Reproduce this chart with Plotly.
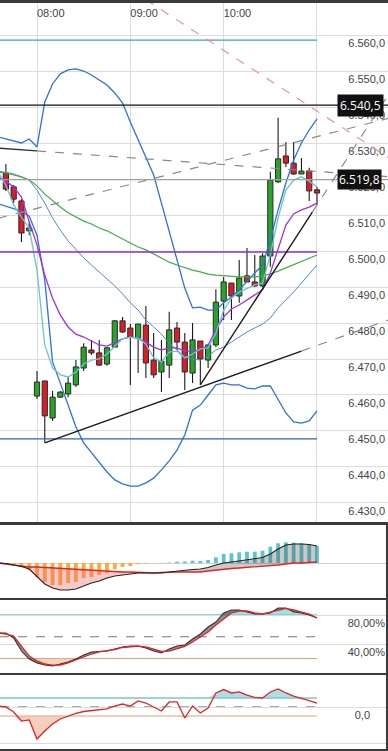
import pandas as pd
import plotly.graph_objects as go

DAY = "2020-01-02 "

# ---------------- data ----------------
line_times = ["07:35", "07:40", "07:45", "07:50", "07:55", "08:00", "08:05", "08:10", "08:15", "08:20",
              "08:25", "08:30", "08:35", "08:40", "08:45", "08:50", "08:55", "09:00", "09:05", "09:10",
              "09:15", "09:20", "09:25", "09:30", "09:35", "09:40", "09:45", "09:50", "09:55", "10:00",
              "10:05", "10:10", "10:15", "10:20", "10:25", "10:30", "10:35", "10:40", "10:45", "10:50",
              "10:55", "11:00"]
candle_times = line_times[1:]

opens = [6521.7, 6517.8, 6513.9, 6505.6, 6459.7, 6463.9, 6453.6, 6459.4, 6460.3, 6462.8, 6467.5, 6472.5,
         6471.7, 6468.6, 6473.3, 6480.6, 6478.6, 6475.8, 6479.4, 6469.7, 6466.4, 6468.3, 6478.6, 6474.7,
         6466.1, 6475.0, 6469.7, 6473.9, 6486.1, 6491.1, 6487.5, 6493.1, 6491.4, 6490.3, 6498.6, 6519.2,
         6526.4, 6524.4, 6521.4, 6522.2, 6517.0]
highs = [6524.2, 6518.3, 6514.4, 6508.1, 6466.7, 6463.9, 6461.1, 6461.1, 6465.0, 6469.7, 6474.4, 6475.3,
         6475.3, 6473.3, 6480.8, 6481.7, 6479.7, 6479.7, 6484.7, 6477.2, 6475.3, 6483.1, 6480.3, 6477.2,
         6480.0, 6475.0, 6474.0, 6489.4, 6492.8, 6491.1, 6497.5, 6500.8, 6498.9, 6499.4, 6522.0, 6537.0,
         6530.3, 6530.3, 6525.8, 6523.1, 6517.8]
lows = [6516.7, 6513.3, 6502.5, 6504.4, 6458.9, 6446.7, 6452.8, 6459.2, 6459.4, 6462.2, 6466.7, 6471.1,
        6468.1, 6468.1, 6473.3, 6477.2, 6462.8, 6466.1, 6464.7, 6464.7, 6460.8, 6464.7, 6472.5, 6461.4,
        6463.3, 6462.8, 6467.5, 6473.3, 6480.8, 6480.8, 6485.6, 6491.4, 6490.0, 6490.0, 6495.6, 6518.9,
        6523.3, 6521.1, 6521.4, 6513.9, 6512.8]
closes = [6517.2, 6514.4, 6505.0, 6506.4, 6463.6, 6454.2, 6459.4, 6460.8, 6463.3, 6467.8, 6473.3, 6471.7,
          6468.3, 6473.1, 6480.6, 6477.5, 6476.1, 6479.7, 6468.9, 6465.6, 6469.4, 6478.1, 6474.7, 6466.4,
          6475.3, 6470.0, 6473.9, 6485.8, 6491.4, 6487.5, 6492.5, 6491.4, 6490.3, 6498.6, 6519.7, 6525.6,
          6524.4, 6521.4, 6522.2, 6516.7, 6516.1]

bb_upper = [6531.7, 6531.1, 6530.6, 6530.0, 6531.1, 6528.9, 6541.4, 6546.4, 6549.2, 6550.3, 6550.6, 6550.0,
            6548.9, 6547.5, 6546.1, 6543.9, 6541.1, 6535.8, 6530.8, 6526.1, 6521.1, 6513.3, 6505.3, 6497.5,
            6489.7, 6484.2, 6484.4, 6483.6, 6483.6, 6485.6, 6487.2, 6489.2, 6491.7, 6493.9, 6496.1, 6503.1,
            6511.4, 6518.9, 6525.3, 6530.0, 6533.6, 6536.7]
bb_middle = [6522.2, 6521.9, 6521.4, 6520.6, 6519.7, 6516.9, 6513.3, 6509.2, 6505.8, 6502.8, 6500.3, 6498.1,
             6496.1, 6494.2, 6492.2, 6490.3, 6488.1, 6485.6, 6483.6, 6480.8, 6478.9, 6476.9, 6474.4, 6472.5,
             6470.6, 6470.0, 6469.7, 6470.8, 6472.5, 6473.3, 6474.7, 6476.1, 6477.5, 6478.6, 6479.7, 6481.4,
             6484.2, 6486.4, 6488.6, 6491.1, 6493.6, 6496.1]
bb_lower = [6513.1, 6512.5, 6511.9, 6511.1, 6509.7, 6504.4, 6491.9, 6469.2, 6463.3, 6457.2, 6451.1, 6446.7,
            6443.9, 6441.1, 6438.6, 6436.4, 6435.3, 6434.7, 6434.7, 6435.6, 6436.9, 6439.2, 6441.7, 6444.7,
            6448.9, 6455.8, 6457.2, 6460.0, 6462.8, 6463.3, 6462.8, 6462.8, 6461.9, 6461.7, 6462.5, 6462.5,
            6458.6, 6455.0, 6452.5, 6452.2, 6452.8, 6455.6]
ma_green = [6521.9, 6521.7, 6521.1, 6520.6, 6519.7, 6518.1, 6515.8, 6513.9, 6512.2, 6510.6, 6509.4, 6508.3,
            6507.5, 6506.4, 6505.6, 6504.4, 6503.3, 6502.2, 6501.1, 6500.3, 6499.2, 6498.1, 6496.9, 6496.1,
            6495.3, 6494.7, 6494.2, 6493.6, 6493.3, 6493.1, 6492.8, 6492.8, 6492.8, 6492.8, 6493.1, 6493.6,
            6494.4, 6495.3, 6496.4, 6497.2, 6498.1, 6498.9]
ma_purple = [6520.6, 6519.4, 6517.8, 6515.0, 6508.1, 6501.7, 6493.3, 6486.9, 6482.2, 6478.9, 6476.9, 6476.1,
             6475.0, 6473.9, 6473.6, 6474.7, 6475.6, 6476.1, 6475.8, 6474.7, 6473.3, 6472.5, 6473.1, 6473.1,
             6472.2, 6472.2, 6472.5, 6473.9, 6478.1, 6481.7, 6483.9, 6485.0, 6486.4, 6487.8, 6489.2, 6493.9,
             6500.8, 6507.2, 6510.3, 6511.4, 6512.2, 6513.3]
ma_cyan = [6521.9, 6518.3, 6512.8, 6509.4, 6506.4, 6494.7, 6473.9, 6467.5, 6465.6, 6465.0, 6466.4, 6468.6,
           6469.7, 6470.0, 6471.4, 6473.6, 6475.6, 6476.1, 6475.8, 6474.2, 6470.3, 6469.2, 6471.9, 6472.2,
           6470.3, 6471.4, 6472.8, 6473.1, 6477.2, 6483.6, 6486.9, 6488.6, 6489.7, 6490.6, 6491.1, 6498.9,
           6509.2, 6516.9, 6519.7, 6520.6, 6519.4, 6517.8]

level_teal = 6558.6
level_black = 6540.5
level_gray = 6519.8
level_purple = 6499.7
level_blue = 6447.8

# trendlines: two anchor points (time, price)
trend_low = [("08:05", 6446.7), ("10:50", 6472.2)]
trend_steep = [("09:45", 6462.8), ("10:57", 6510.8)]
trend_desc = [("08:00", 6527.8), ("11:00", 6522.1)]
trend_asc = [("07:35", 6509.1), ("11:50", 6537.3)]
trend_red = [("09:10", 6569.8), ("11:50", 6524.8)]

macd = [0, -0.5, -2, -3.5, -6, -14, -21, -25, -27, -27, -26, -23, -20, -18, -15, -13, -12, -10.5, -10, -10,
        -10, -10, -9, -8, -7, -6.5, -6, -4.5, -2, 0, 1, 2, 3, 4, 5.5, 9, 14, 18, 19, 19, 18.5, 17]
macd_signal = [0, -1, -2, -3.5, -4, -4, -4.5, -5, -5.5, -6, -6.5, -7, -7.5, -8, -8.5, -9, -9, -9, -9.5, -10,
               -10, -9.5, -9, -9, -9, -9, -9, -8, -7, -6, -5.5, -5, -4.5, -4, -3.5, -3, -2, -1, 0, 0, 0.5, 1]
macd_hist = [0, 0, -1, -4, -7, -14, -19, -22, -22, -20, -19, -15, -14, -12, -10, -6, -4, -3, -1, -0.5, -0.3,
             -0.2, 0.5, 1.3, 1.5, 2.3, 2, 3, 5.7, 9, 9.7, 10.7, 11.3, 11.3, 12.3, 16.3, 19.7, 20.7, 20.3,
             19.7, 18.7, 17]

stoch_k = [55.2, 55.2, 48.3, 30.3, 19.3, 13.8, 11.0, 9.7, 12.4, 15.2, 19.3, 24.8, 29.0, 29.7, 30.3, 33.1,
           35.9, 37.2, 37.2, 34.5, 30.3, 27.6, 33.1, 37.2, 38.6, 46.9, 53.8, 63.4, 70.3, 82.8, 86.9, 86.9,
           84.1, 81.4, 81.4, 82.8, 89.7, 89.7, 84.1, 82.8, 80.0, 75.9]
stoch_d = [55.2, 53.8, 51.0, 37.2, 23.4, 16.6, 12.4, 11.0, 11.0, 13.8, 17.9, 22.1, 26.2, 29.0, 30.3, 32.4,
           35.2, 36.6, 37.2, 35.9, 33.1, 29.7, 30.3, 33.8, 36.6, 42.8, 49.7, 56.6, 66.2, 74.5, 82.8, 85.5,
           85.5, 82.8, 81.4, 84.1, 86.9, 89.0, 86.9, 84.1, 81.4, 75.9]

osc = [11, 0, -56, -156, -144, -356, -267, -189, -133, -100, -72, -50, -39, -33, -22, 11, 33, 11, 67, 44, 0,
       -44, 56, 56, -122, 11, -67, -11, 156, 194, 156, 167, 133, 106, 100, 167, 200, 156, 122, 100, 72, 44]

# ---------------- helpers ----------------
W, H = 388, 751
PX_PER_MIN = 93.33 / 60.0
T = lambda s: pd.Timestamp(DAY + s)
x0 = T("08:00") - pd.Timedelta(minutes=37 / PX_PER_MIN)
x1 = T("08:00") + pd.Timedelta(minutes=(W - 37) / PX_PER_MIN)
MS_PER_PX = 60000 / PX_PER_MIN

xl = [T(s) for s in line_times]
xc = [T(s) for s in candle_times]


def pp(px):  # pixel row -> paper y
    return (H - px) / H


def line_at(p, to):
    (ta, va), (tb, vb) = p
    a, b = T(ta), T(tb)
    slope = (vb - va) / (b - a).total_seconds()
    e = T(to)
    return e, va + slope * (e - a).total_seconds()


fig = go.Figure()

# ---------------- main: candles ----------------
wick_len = [h - l for h, l in zip(highs, lows)]
body_base = [min(o, c) for o, c in zip(opens, closes)]
body_len = [max(abs(c - o), 0.4) for o, c in zip(opens, closes)]
body_col = ["#28a428" if c >= o else "#d81e28" for o, c in zip(opens, closes)]

fig.add_trace(go.Bar(x=xc, y=wick_len, base=lows, width=1.1 * MS_PER_PX,
                     marker=dict(color="#1a1a1a", line_width=0), xaxis="x", yaxis="y"))
fig.add_trace(go.Bar(x=xc, y=body_len, base=body_base, width=5.2 * MS_PER_PX,
                     marker=dict(color=body_col, line=dict(color="#2a2a2a", width=1)), xaxis="x", yaxis="y"))

for vals, col, w in [(bb_upper, "#2f6fe0", 1.3), (bb_lower, "#2f6fe0", 1.3), (bb_middle, "#4a86e8", 1.0),
                     (ma_green, "#3cb043", 1.2), (ma_purple, "#a030e8", 1.3), (ma_cyan, "#66c5cf", 1.3)]:
    fig.add_trace(go.Scatter(x=xl, y=vals, mode="lines", line=dict(color=col, width=w),
                             xaxis="x", yaxis="y"))

shapes = []
end_t = T("11:00")
for lv, col, w, full in [(level_teal, "#3aa9a9", 1.2, False), (level_black, "#111111", 1.3, True),
                         (level_gray, "#a0a0a0", 1.3, True), (level_purple, "#8a2be2", 1.5, False),
                         (level_blue, "#2566b5", 1.3, False)]:
    shapes.append(dict(type="line", xref="x", yref="y", x0=x0, x1=(x1 if full else end_t), y0=lv, y1=lv,
                       line=dict(color=col, width=w)))

for tl in [trend_low, trend_steep]:
    (ta, va), (tb, vb) = tl
    shapes.append(dict(type="line", xref="x", yref="y", x0=T(ta), y0=va, x1=T(tb), y1=vb,
                       line=dict(color="#1a1a1a", width=1.4)))
    e, ve = line_at(tl, "11:50")
    shapes.append(dict(type="line", xref="x", yref="y", x0=T(tb), y0=vb, x1=e, y1=ve,
                       line=dict(color="#8a8a8a", width=1.2, dash="dash")))
(ta, va), _ = trend_desc
le, lve = line_at(trend_desc, "07:30")
shapes.append(dict(type="line", xref="x", yref="y", x0=le, y0=lve, x1=T(ta), y1=va,
                   line=dict(color="#333333", width=1.4)))
e, ve = line_at(trend_desc, "11:50")
shapes.append(dict(type="line", xref="x", yref="y", x0=T(ta), y0=va, x1=e, y1=ve,
                   line=dict(color="#8a8a8a", width=1.2, dash="dash")))
(ta, va), (tb, vb) = trend_asc
shapes.append(dict(type="line", xref="x", yref="y", x0=T(ta), y0=va, x1=T(tb), y1=vb,
                   line=dict(color="#8a8a8a", width=1.2, dash="dash")))
(ta, va), (tb, vb) = trend_red
shapes.append(dict(type="line", xref="x", yref="y", x0=T(ta), y0=va, x1=T(tb), y1=vb,
                   line=dict(color="#ec8a8a", width=1.1, dash="dash")))

# ---------------- MACD panel ----------------
hist_col = ["#ffa833" if v < 0 else "#5cc2cd" for v in macd_hist]
fig.add_trace(go.Bar(x=xl, y=macd_hist, width=3.8 * MS_PER_PX, marker=dict(color=hist_col, line_width=0),
                     xaxis="x2", yaxis="y2"))
cross = next(i for i in range(len(macd)) if i > 5 and macd[i] >= macd_signal[i])
for seg, fc in [(slice(0, cross + 1), "rgba(232,110,110,0.38)"), (slice(cross, None), "rgba(90,90,90,0.33)")]:
    fig.add_trace(go.Scatter(x=xl[seg], y=macd_signal[seg], mode="lines", line=dict(width=0),
                             xaxis="x2", yaxis="y2"))
    fig.add_trace(go.Scatter(x=xl[seg], y=macd[seg], mode="lines", line=dict(width=0), fill="tonexty",
                             fillcolor=fc, xaxis="x2", yaxis="y2"))
fig.add_trace(go.Scatter(x=xl, y=macd_signal, mode="lines", line=dict(color="#e02424", width=1.3),
                         xaxis="x2", yaxis="y2"))
fig.add_trace(go.Scatter(x=xl, y=macd, mode="lines", line=dict(color="#222222", width=1.1),
                         xaxis="x2", yaxis="y2"))

# ---------------- Stochastic panel ----------------
upper_kd = [max(a, b, 80) for a, b in zip(stoch_k, stoch_d)]
lower_kd = [min(a, b, 20) for a, b in zip(stoch_k, stoch_d)]
fig.add_trace(go.Scatter(x=xl, y=[80] * len(xl), mode="lines", line=dict(width=0), xaxis="x3", yaxis="y3"))
fig.add_trace(go.Scatter(x=xl, y=upper_kd, mode="lines", line=dict(width=0), fill="tonexty",
                         fillcolor="rgba(120,205,215,0.65)", xaxis="x3", yaxis="y3"))
fig.add_trace(go.Scatter(x=xl, y=[20] * len(xl), mode="lines", line=dict(width=0), xaxis="x3", yaxis="y3"))
fig.add_trace(go.Scatter(x=xl, y=lower_kd, mode="lines", line=dict(width=0), fill="tonexty",
                         fillcolor="rgba(240,180,150,0.6)", xaxis="x3", yaxis="y3"))
fig.add_trace(go.Scatter(x=xl, y=stoch_d, mode="lines", line=dict(width=0), xaxis="x3", yaxis="y3"))
fig.add_trace(go.Scatter(x=xl, y=stoch_k, mode="lines", line=dict(width=0), fill="tonexty",
                         fillcolor="rgba(70,70,70,0.6)", xaxis="x3", yaxis="y3"))
fig.add_trace(go.Scatter(x=xl, y=stoch_k, mode="lines", line=dict(color="#333333", width=1.1),
                         xaxis="x3", yaxis="y3"))
fig.add_trace(go.Scatter(x=xl, y=stoch_d, mode="lines", line=dict(color="#e02424", width=1.3),
                         xaxis="x3", yaxis="y3"))
for lv, col, dash in [(80, "#3aa9a9", "solid"), (50, "#777777", "dash"), (20, "#e0a080", "solid")]:
    shapes.append(dict(type="line", xref="x3", yref="y3", x0=x0, x1=end_t, y0=lv, y1=lv,
                       line=dict(color=col, width=1, dash=dash), layer="below"))

# ---------------- Oscillator panel ----------------
osc_hi = [max(v, 100) for v in osc]
osc_lo = [min(v, -100) for v in osc]
fig.add_trace(go.Scatter(x=xl, y=[100] * len(xl), mode="lines", line=dict(width=0), xaxis="x4", yaxis="y4"))
fig.add_trace(go.Scatter(x=xl, y=osc_hi, mode="lines", line=dict(width=0), fill="tonexty",
                         fillcolor="rgba(130,205,215,0.65)", xaxis="x4", yaxis="y4"))
fig.add_trace(go.Scatter(x=xl, y=[-100] * len(xl), mode="lines", line=dict(width=0), xaxis="x4", yaxis="y4"))
fig.add_trace(go.Scatter(x=xl, y=osc_lo, mode="lines", line=dict(width=0), fill="tonexty",
                         fillcolor="rgba(235,175,145,0.6)", xaxis="x4", yaxis="y4"))
fig.add_trace(go.Scatter(x=xl, y=osc, mode="lines", line=dict(color="#e02424", width=1.3),
                         xaxis="x4", yaxis="y4"))
for lv, col, dash in [(100, "#3aa9a9", "solid"), (0, "#555555", "dash"), (-100, "#e0a080", "solid")]:
    shapes.append(dict(type="line", xref="x4", yref="y4", x0=x0, x1=end_t, y0=lv, y1=lv,
                       line=dict(color=col, width=1, dash=dash), layer="below"))

# separators
for a, b in [(0, 3), (522, 525), (598, 600), (673, 675), (749, 751)]:
    shapes.append(dict(type="rect", xref="paper", yref="paper", x0=0, x1=1, y0=pp(b), y1=pp(a),
                       fillcolor="#3a3a3a", line_width=0, layer="above"))
shapes.append(dict(type="rect", xref="paper", yref="paper", x0=(W - 2) / W, x1=1, y0=pp(751), y1=pp(522),
                   fillcolor="#3a3a3a", line_width=0, layer="above"))

annotations = [
    dict(xref="paper", yref="y", x=1, xanchor="right", xshift=-4, y=level_black, text="6.540,5",
         showarrow=False, bgcolor="#111111", borderpad=2, font=dict(color="white", size=12)),
    dict(xref="paper", yref="y", x=1, xanchor="right", xshift=-6, y=level_gray, text="6.519,8",
         showarrow=False, bgcolor="#111111", borderpad=1, font=dict(color="white", size=12)),
]

tickfont = dict(family="Liberation Sans, Arial", size=11, color="#444444")
grid = "#dcdcdc"
fig.update_layout(
    width=W, height=H, margin=dict(l=0, r=0, t=0, b=0), paper_bgcolor="white", plot_bgcolor="white",
    showlegend=False, barmode="overlay", hovermode=False, separators=",.",
    shapes=shapes, annotations=annotations,
    xaxis=dict(domain=[0, 1], range=[x0, x1], type="date", anchor="y", side="top",
               tickvals=[T("08:00"), T("09:00"), T("10:00"), T("11:00")],
               ticktext=["08:00", "09:00", "10:00", ""], ticklabelposition="inside right",
               showgrid=True, gridcolor=grid, ticks="", zeroline=False, showline=False, tickfont=tickfont),
    yaxis=dict(domain=[pp(522), pp(3)], range=[6424.72, 6568.89], anchor="x", side="right",
               tick0=6430, dtick=10, tickformat=",.1f", ticklabelposition="inside bottom",
               showgrid=True, gridcolor=grid, zeroline=False, ticks="", tickfont=tickfont),
    xaxis2=dict(domain=[0, 1], matches="x", anchor="y2", showticklabels=False, showgrid=False, type="date"),
    yaxis2=dict(domain=[pp(598), pp(525)], range=[-35, 38], anchor="x2", showticklabels=False,
                showgrid=False, zeroline=True, zerolinecolor="#d0d0d0", zerolinewidth=1),
    xaxis3=dict(domain=[0, 1], matches="x", anchor="y3", showticklabels=False, showgrid=False, type="date"),
    yaxis3=dict(domain=[pp(673), pp(600)], range=[0, 100.7], anchor="x3", side="right",
                tickvals=[40, 80], ticktext=["40,00%", "80,00%"], ticklabelposition="inside bottom",
                showgrid=True, gridcolor=grid, zeroline=False, ticks="", tickfont=tickfont),
    xaxis4=dict(domain=[0, 1], matches="x", anchor="y4", showticklabels=False, showgrid=False, type="date"),
    yaxis4=dict(domain=[pp(749), pp(675)], range=[-466.7, 355.6], anchor="x4", side="right",
                tickvals=[0, -400], ticktext=["0,0", ""], ticklabelposition="inside bottom",
                showgrid=True, gridcolor=grid, zeroline=False, ticks="", tickfont=tickfont,
                ticklabelstandoff=15),
)

fig.write_html("out.html", config={"displayModeBar": False, "staticPlot": True},
               post_script="document.body.style.margin='0';document.body.style.overflow='hidden';")
